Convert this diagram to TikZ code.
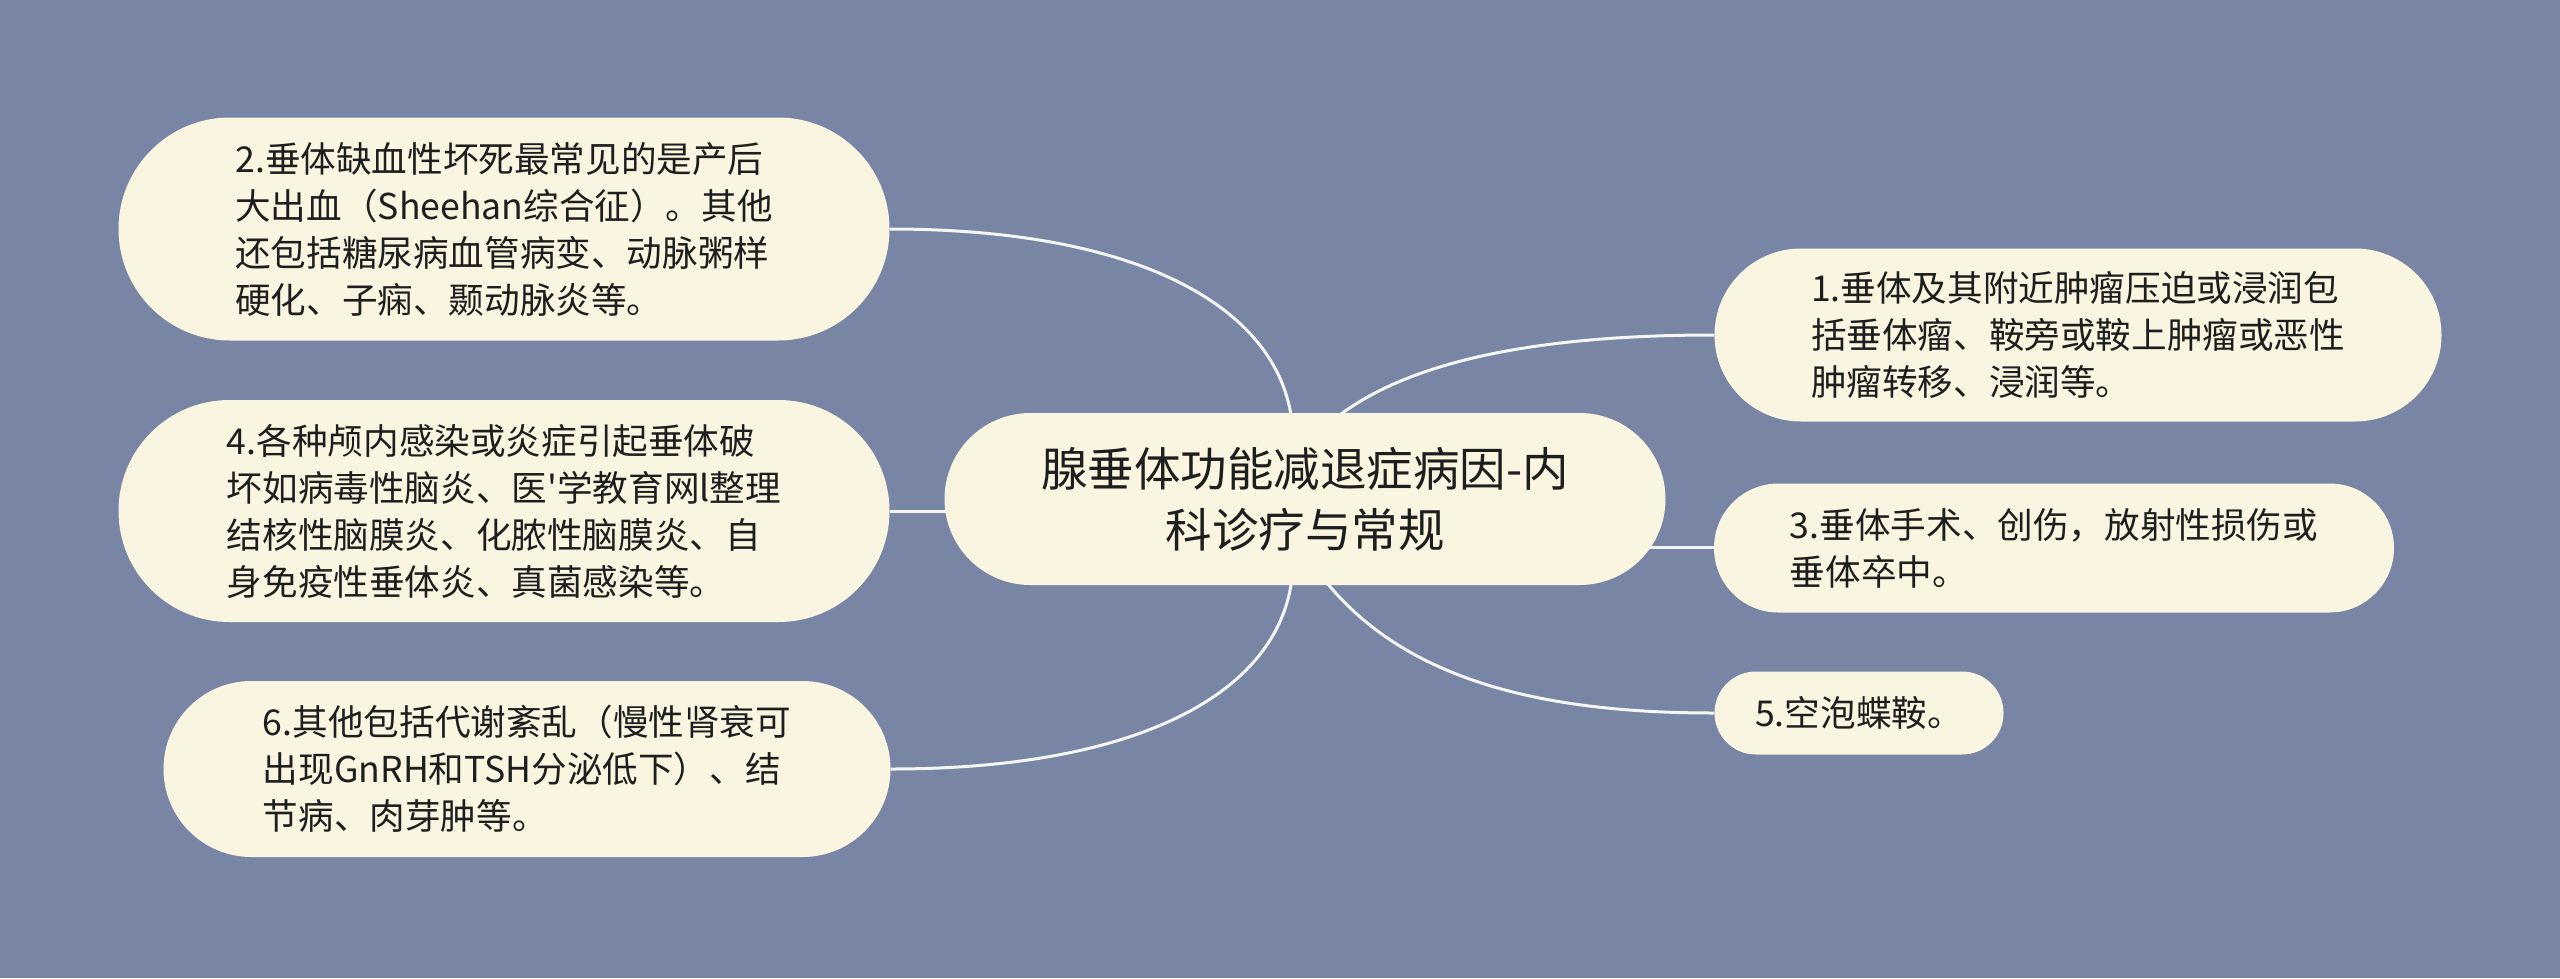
\documentclass[tikz,border=0pt]{standalone}
\usepackage{fontspec}
\newfontfamily\cjk{Noto Sans CJK SC}
\pgfdeclarelayer{bg}
\pgfdeclarelayer{edges}
\pgfsetlayers{bg,edges,main}
\definecolor{bgcol}{RGB}{120,133,165}
\definecolor{boxcol}{RGB}{249,245,225}
\definecolor{txtcol}{RGB}{30,30,30}
\definecolor{edgecol}{RGB}{246,246,246}
\tikzset{
  leafbox/.style={fill=boxcol, text=txtcol, align=left, inner sep=0pt,
    font=\cjk\fontsize{35.6}{47}\selectfont},
  rootbox/.style={fill=boxcol, text=txtcol, align=center, inner sep=0pt,
    font=\cjk\fontsize{46.5}{61}\selectfont},
  link/.style={draw=edgecol, line width=3pt}
}
\begin{document}
\begin{tikzpicture}[x=1pt,y=-1pt]
\begin{pgfonlayer}{bg}
\fill[bgcol] (0,0) rectangle (2560,978);
\end{pgfonlayer}
\useasboundingbox (0,0) rectangle (2560,978);

\node[rootbox, minimum width=721pt, minimum height=172pt, rounded corners=85.9pt] (root) at (1305,499)
  {腺垂体功能减退症病因-内\\科诊疗与常规};

\node[leafbox, minimum width=771pt, minimum height=223pt, rounded corners=111.4pt] (n2) at (504,229)
  {2.垂体缺血性坏死最常见的是产后\\大出血（Sheehan综合征）。其他\\还包括糖尿病血管病变、动脉粥样\\硬化、子痫、颞动脉炎等。};

\node[leafbox, minimum width=771pt, minimum height=222pt, rounded corners=110.9pt] (n4) at (504,511)
  {4.各种颅内感染或炎症引起垂体破\\坏如病毒性脑炎、医'学教育网l整理\\结核性脑膜炎、化脓性脑膜炎、自\\身免疫性垂体炎、真菌感染等。};

\node[leafbox, minimum width=727pt, minimum height=176pt, rounded corners=87.9pt] (n6) at (527,769)
  {6.其他包括代谢紊乱（慢性肾衰可\\出现GnRH和TSH分泌低下）、结\\节病、肉芽肿等。};

\node[leafbox, minimum width=727pt, minimum height=173pt, rounded corners=86.4pt] (n1) at (2078,335)
  {1.垂体及其附近肿瘤压迫或浸润包\\括垂体瘤、鞍旁或鞍上肿瘤或恶性\\肿瘤转移、浸润等。};

\node[leafbox, minimum width=680pt, minimum height=129pt, rounded corners=64.4pt] (n3) at (2054,548)
  {3.垂体手术、创伤，放射性损伤或\\垂体卒中。};

\node[leafbox, minimum width=289pt, minimum height=83pt, rounded corners=41.4pt] (n5) at (1859,713)
  {5.空泡蝶鞍。};

\begin{pgfonlayer}{edges}
\coordinate (r2) at (1293,440);
\coordinate (r6) at (1293,560);
\coordinate (r1) at (1312,440);
\coordinate (r5) at (1310,560);
\coordinate (r3) at (1600,547);
\coordinate (r4) at (1000,511);
\draw[link] (n2.east) .. controls (1160,229) and (1293,320) .. (r2);
\draw[link] (n6.east) .. controls (1160,769) and (1293,680) .. (r6);
\draw[link] (r1) .. controls (1385,360) and (1540,335) .. (n1.west);
\draw[link] (r5) .. controls (1390,680) and (1540,713) .. (n5.west);
\draw[link] (r3) -- (r3 -| n3.west);
\draw[link] (n4.east) -- (r4);
\end{pgfonlayer}
\end{tikzpicture}
\end{document}
